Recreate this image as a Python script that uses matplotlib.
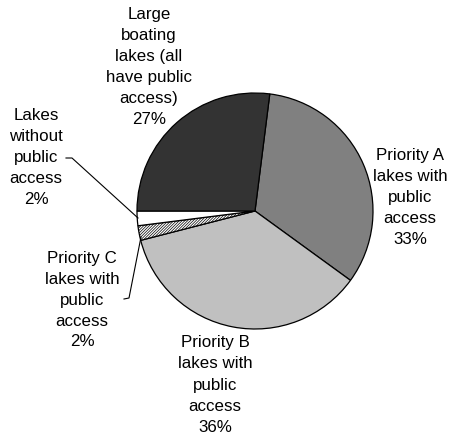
import matplotlib
matplotlib.use('Agg')
import matplotlib.pyplot as plt

# share of lakes by category, clockwise from the top
categories = ['Priority A\nlakes with\npublic\naccess',
              'Priority B\nlakes with\npublic\naccess',
              'Priority C\nlakes with\npublic\naccess',
              'Lakes\nwithout\npublic\naccess',
              'Large\nboating\nlakes (all\nhave public\naccess)']
shares = [33, 36, 2, 2, 27]
colors = ['#808080', '#c0c0c0', '#ffffff', '#ffffff', '#333333']
hatches = [None, None, '////////////', None, None]

plt.rcParams['font.family'] = ['Liberation Sans', 'DejaVu Sans']
plt.rcParams['hatch.linewidth'] = 0.5

fig = plt.figure(figsize=(4.53, 4.4), dpi=100)
ax = fig.add_axes([0, 0, 1, 1])

wedges, _ = ax.pie(shares, colors=colors, startangle=82.8, counterclock=False,
                   center=(255, 229), radius=118, frame=True,
                   wedgeprops=dict(edgecolor='black', linewidth=0.9))
for w, h in zip(wedges, hatches):
    if h:
        w.set_hatch(h)
ax.set_xlim(0, 453)
ax.set_ylim(0, 440)
ax.set_aspect('equal')
ax.axis('off')

# label positions (x, y of block centre)
label_pos = [(410, 243), (215, 55), (82, 140), (36, 283), (149, 373)]
for cat, val, (x, y) in zip(categories, shares, label_pos):
    ax.text(x, y, '%s\n%d%%' % (cat, val), ha='center', va='center',
            fontsize=12.2, linespacing=1.5, color='black')

# leader lines for the two thin slices
ax.plot([66, 72, 138], [282, 282, 222], color='black', lw=0.8)
ax.plot([124, 129, 141], [141, 142, 203], color='black', lw=0.8)

fig.savefig('out.png', dpi=100)
